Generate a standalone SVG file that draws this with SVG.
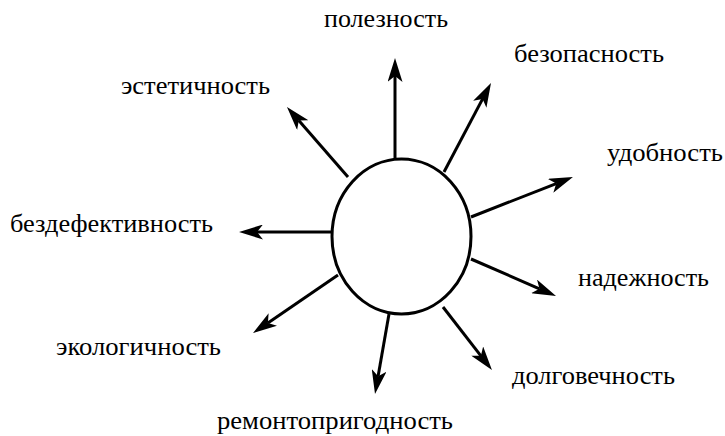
<svg xmlns="http://www.w3.org/2000/svg" width="725" height="436" viewBox="0 0 725 436">
<style>
.lbl{font-family:'Liberation Serif','Times New Roman',serif;font-size:25px;fill:#000}
.conn line{stroke:#000;stroke-width:3;fill:none;marker-end:url(#ah)}
</style>
<defs>
<marker id="ah" markerUnits="userSpaceOnUse" markerWidth="24" markerHeight="15" viewBox="0 0 24 15" refX="6" refY="7.5" orient="auto">
<path d="M24,7.5 L0,0 L6,7.5 L0,15 Z" fill="#000"/>
</marker>
</defs>
<rect width="725" height="436" fill="#fff"/>
<g id="center"><ellipse cx="401.5" cy="236.5" rx="69.5" ry="77.5" fill="#fff" stroke="#000" stroke-width="3"/></g>
<g class="conn" id="connectors">
<line x1="395" y1="158" x2="395" y2="76"/>
<line x1="444" y1="172" x2="482.6" y2="98.9"/>
<line x1="471" y1="217" x2="556.2" y2="183.6"/>
<line x1="471" y1="259" x2="539.5" y2="288.8"/>
<line x1="443" y1="307" x2="480.9" y2="355.8"/>
<line x1="389" y1="314" x2="378.1" y2="376.3"/>
<line x1="338" y1="275" x2="267.9" y2="322.9"/>
<line x1="332" y1="232" x2="257" y2="232"/>
<line x1="348" y1="177" x2="298.8" y2="120.6"/>
</g>
<g id="n1"><text class="lbl" x="324" y="27" textLength="124" lengthAdjust="spacingAndGlyphs">полезность</text></g>
<g id="n2"><text class="lbl" x="514" y="62" textLength="150" lengthAdjust="spacingAndGlyphs">безопасность</text></g>
<g id="n3"><text class="lbl" x="607" y="161" textLength="116" lengthAdjust="spacingAndGlyphs">удобность</text></g>
<g id="n4"><text class="lbl" x="578" y="286" textLength="131" lengthAdjust="spacingAndGlyphs">надежность</text></g>
<g id="n5"><text class="lbl" x="512" y="384" textLength="163" lengthAdjust="spacingAndGlyphs">долговечность</text></g>
<g id="n6"><text class="lbl" x="217" y="429" textLength="236" lengthAdjust="spacingAndGlyphs">ремонтопригодность</text></g>
<g id="n7"><text class="lbl" x="56" y="355" textLength="165" lengthAdjust="spacingAndGlyphs">экологичность</text></g>
<g id="n8"><text class="lbl" x="10" y="232" textLength="203" lengthAdjust="spacingAndGlyphs">бездефективность</text></g>
<g id="n9"><text class="lbl" x="121" y="94" textLength="149" lengthAdjust="spacingAndGlyphs">эстетичность</text></g>
</svg>
